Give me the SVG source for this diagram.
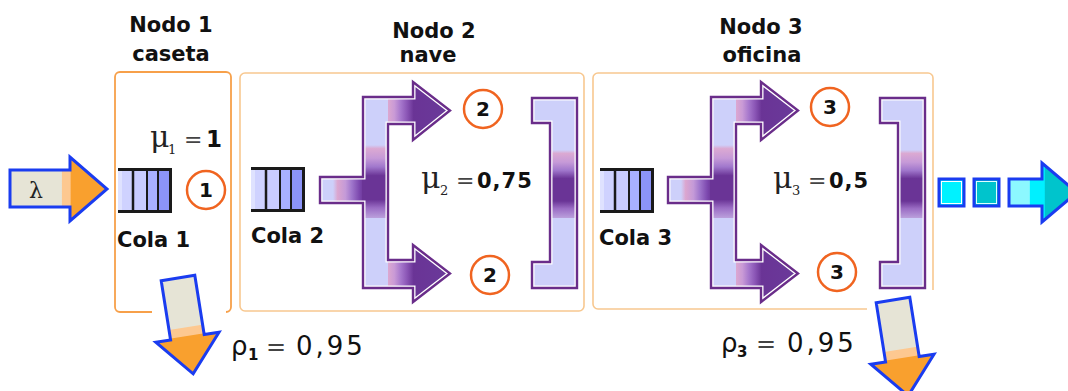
<svg xmlns="http://www.w3.org/2000/svg" width="1068" height="391" viewBox="0 0 1068 391">
<style>
.title{font-family:"DejaVu Sans",sans-serif;font-weight:bold;font-size:21px;fill:#111;text-anchor:middle}
.cola{font-family:"DejaVu Sans",sans-serif;font-weight:bold;font-size:21px;fill:#111}
.mu{font-family:"DejaVu Serif",serif;font-size:30px;fill:#222}
.sub{font-family:"DejaVu Serif",serif;font-size:13px;fill:#222}
.eq{font-family:"DejaVu Sans",sans-serif;font-size:22px;fill:#444}
.val{font-family:"DejaVu Sans",sans-serif;font-weight:bold;font-size:21px;fill:#111;letter-spacing:1px}
.rho{font-family:"DejaVu Sans",sans-serif;font-size:26px;fill:#111}
.rsub{font-family:"DejaVu Sans",sans-serif;font-weight:bold;font-size:15px;fill:#111}
.rval{font-family:"DejaVu Sans",sans-serif;font-size:26px;fill:#111;letter-spacing:3px}
.num{font-family:"DejaVu Sans",sans-serif;font-weight:bold;font-size:20px;fill:#111;text-anchor:middle}
.srv{fill:#fff;stroke:#f06420;stroke-width:2.5}
.box1{fill:none;stroke:#f7a04a;stroke-width:1.8}
.box{fill:none;stroke:#f8c890;stroke-width:1.6}
.blue{stroke:#1a3cf0;stroke-width:3;stroke-linejoin:miter}
.ql{stroke:#1a1a1a;fill:none}
</style>
<defs>
<linearGradient id="gStub" x1="0" y1="0" x2="1" y2="0">
<stop offset="0" stop-color="#cdd0fa"/><stop offset="0.15" stop-color="#dba6cf"/><stop offset="0.4" stop-color="#c49ad8"/><stop offset="0.6" stop-color="#a077cc"/><stop offset="0.85" stop-color="#7c48ae"/><stop offset="1" stop-color="#6a3496"/>
</linearGradient>
<linearGradient id="gBand" x1="0" y1="0" x2="0" y2="1">
<stop offset="0" stop-color="#cdd0fa"/><stop offset="0.05" stop-color="#dba9d2"/><stop offset="0.18" stop-color="#c69ad8"/><stop offset="0.3" stop-color="#a077cc"/><stop offset="0.42" stop-color="#6a3496"/><stop offset="0.75" stop-color="#6a3496"/><stop offset="0.86" stop-color="#9a6cc4"/><stop offset="1" stop-color="#bba0dc"/>
</linearGradient>
<linearGradient id="gArm" x1="0" y1="0" x2="1" y2="0">
<stop offset="0" stop-color="#dca8d0"/><stop offset="0.1" stop-color="#c99ad6"/><stop offset="0.2" stop-color="#a677cc"/><stop offset="0.3" stop-color="#8a55b5"/><stop offset="0.4" stop-color="#6a3496"/><stop offset="1" stop-color="#6a3a9a"/>
</linearGradient>
<linearGradient id="gIn" gradientUnits="userSpaceOnUse" x1="10" y1="0" x2="107" y2="0">
<stop offset="0.53" stop-color="#e6e4d6"/><stop offset="0.54" stop-color="#fdc890"/><stop offset="0.62" stop-color="#fdc890"/><stop offset="0.63" stop-color="#f9a02e"/>
</linearGradient>
<linearGradient id="gDown" x1="0" y1="0" x2="0" y2="1">
<stop offset="0.51" stop-color="#e6e4d6"/><stop offset="0.52" stop-color="#fdc890"/><stop offset="0.6" stop-color="#fdc890"/><stop offset="0.61" stop-color="#f9a02e"/>
</linearGradient>
<linearGradient id="gOut" gradientUnits="userSpaceOnUse" x1="1009" y1="0" x2="1077" y2="0">
<stop offset="0.3" stop-color="#8cf8ff"/><stop offset="0.31" stop-color="#00f0ff"/><stop offset="0.52" stop-color="#00f0ff"/><stop offset="0.53" stop-color="#00c4cc"/>
</linearGradient>
<path id="splitShape" d="M320,177 H363 V97 H413 V82 L450,110.5 L413,140 V124 H388 V260 H413 V245 L450,273.5 L413,302 V288 H363 V203 H320 Z"/>
<path id="brShape" d="M532,98 H577 V288 H532 V262 H550 V123 H532 Z"/>
<clipPath id="splitClip"><path d="M320,177 H363 V97 H413 V82 L450,110.5 L413,140 V124 H388 V260 H413 V245 L450,273.5 L413,302 V288 H363 V203 H320 Z"/></clipPath>
<clipPath id="brClip"><path d="M532,98 H577 V288 H532 V262 H550 V123 H532 Z"/></clipPath>
<g id="splitter">
<use href="#splitShape" fill="#cdd0fa"/>
<g clip-path="url(#splitClip)">
<rect x="333" y="176" width="31" height="28" fill="url(#gStub)"/>
<rect x="362" y="145" width="27" height="73" fill="url(#gBand)"/>
<rect x="388" y="80" width="64" height="62" fill="url(#gArm)"/>
<rect x="388" y="243" width="64" height="62" fill="url(#gArm)"/>
<use href="#splitShape" fill="none" stroke="#fff" stroke-width="5"/>
</g>
<use href="#splitShape" fill="none" stroke="#6a2d8a" stroke-width="2.4"/>
</g>
<g id="bracket">
<use href="#brShape" fill="#cdd0fa"/>
<g clip-path="url(#brClip)">
<rect x="549" y="150" width="30" height="68" fill="url(#gBand)"/>
<use href="#brShape" fill="none" stroke="#fff" stroke-width="5"/>
</g>
<use href="#brShape" fill="none" stroke="#6a2d8a" stroke-width="2.4"/>
</g>
<g id="queue">
<rect x="0" y="0" width="15" height="45" fill="#cfd2ff"/>
<rect x="0" y="0" width="4" height="45" fill="#dfe2ff"/>
<rect x="15" y="0" width="14" height="45" fill="#c9ccff"/>
<rect x="29" y="0" width="11" height="45" fill="#a9b0ff"/>
<rect x="40" y="0" width="12" height="45" fill="#8c94f8"/>
<line class="ql" x1="0" y1="1.5" x2="54" y2="1.5" stroke-width="3"/>
<line class="ql" x1="0" y1="43.5" x2="54" y2="43.5" stroke-width="3"/>
<line class="ql" x1="15" y1="0" x2="15" y2="45" stroke-width="2.5"/>
<line class="ql" x1="29" y1="0" x2="29" y2="45" stroke-width="2"/>
<line class="ql" x1="40" y1="0" x2="40" y2="45" stroke-width="2"/>
<line class="ql" x1="52.5" y1="0" x2="52.5" y2="45" stroke-width="3"/>
</g>
<polygon id="downArrow" points="-17,0 17,0 17,60 32,60 0,97 -32,60 -17,60" fill="url(#gDown)" class="blue"/>
</defs>
<rect width="1068" height="391" fill="#fff"/>

<g id="node1">
<path class="box1" d="M152,312 H120 A5,5 0 0 1 115,307 V77 A5,5 0 0 1 120,72 H226 A5,5 0 0 1 231,77 V307 A5,5 0 0 1 226,312"/>
<text class="title" x="171" y="32">Nodo 1</text>
<text class="title" x="171" y="61">caseta</text>
<use href="#queue" x="118" y="168"/>
<text class="cola" x="117" y="247">Cola 1</text>
<circle class="srv" cx="206" cy="190" r="19"/>
<text class="num" x="206" y="197">1</text>
<text class="mu" x="150" y="147">μ</text>
<text class="sub" x="168" y="154">1</text>
<text class="eq" x="184" y="147">=</text>
<text class="val" x="206" y="147" style="font-size:23px">1</text>
<text class="rho" x="231" y="355">ρ</text>
<text class="rsub" x="248" y="360">1</text>
<text class="eq" x="266" y="355" style="font-size:24px">=</text>
<text class="rval" x="296" y="355">0,95</text>
</g>

<g id="node2">
<rect class="box" x="240" y="73" width="344" height="238" rx="5"/>
<text class="title" x="434" y="38">Nodo 2</text>
<text class="title" x="428" y="62">nave</text>
<use href="#queue" x="251" y="167"/>
<text class="cola" x="251" y="243">Cola 2</text>
<use href="#splitter"/>
<use href="#bracket"/>
<circle class="srv" cx="483" cy="109" r="19"/>
<text class="num" x="483" y="116">2</text>
<circle class="srv" cx="490" cy="275" r="19"/>
<text class="num" x="490" y="282">2</text>
<text class="mu" x="421" y="188">μ</text>
<text class="sub" x="440" y="195">2</text>
<text class="eq" x="456" y="188">=</text>
<text class="val" x="477" y="188">0,75</text>
</g>

<g id="node3">
<path class="box" d="M867,309 H598 A5,5 0 0 1 593,304 V78 A5,5 0 0 1 598,73 H928 A5,5 0 0 1 933,78 V290"/>
<text class="title" x="761" y="34">Nodo 3</text>
<text class="title" x="762" y="62">oficina</text>
<use href="#queue" x="600" y="168"/>
<text class="cola" x="599" y="245">Cola 3</text>
<use href="#splitter" transform="translate(348,0)"/>
<use href="#bracket" transform="translate(348,0)"/>
<circle class="srv" cx="830" cy="107" r="19"/>
<text class="num" x="830" y="114">3</text>
<circle class="srv" cx="837" cy="272" r="19"/>
<text class="num" x="837" y="279">3</text>
<text class="mu" x="773" y="188">μ</text>
<text class="sub" x="792" y="195">3</text>
<text class="eq" x="808" y="188">=</text>
<text class="val" x="829" y="188">0,5</text>
<text class="rho" x="721" y="352">ρ</text>
<text class="rsub" x="737" y="357">3</text>
<text class="eq" x="756" y="352" style="font-size:24px">=</text>
<text class="rval" x="787" y="352">0,95</text>
</g>

<g id="connectors">
<g id="input">
<polygon points="10,170 70,170 70,157 107,189 70,221 70,207 10,207" fill="url(#gIn)" class="blue"/>
<text x="29" y="198" style="font-family:'DejaVu Serif',serif;font-size:22px;fill:#222">λ</text>
</g>
<use href="#downArrow" transform="translate(178,278) rotate(-9)"/>
<use href="#downArrow" transform="translate(893,300) rotate(-9)"/>
<g id="output">
<rect x="939" y="179" width="25" height="27" fill="#00f2ff" class="blue"/>
<rect x="941.5" y="181.5" width="20" height="22" fill="none" stroke="#fff" stroke-width="1"/>
<rect x="974" y="179" width="25" height="27" fill="#00c4cc" class="blue"/>
<rect x="976.5" y="181.5" width="20" height="22" fill="none" stroke="#e0ffff" stroke-width="1"/>
<polygon points="1009,179 1042,179 1042,163 1077,192.5 1042,222 1042,206 1009,206" fill="url(#gOut)" class="blue"/>
</g>
</g>
</svg>
